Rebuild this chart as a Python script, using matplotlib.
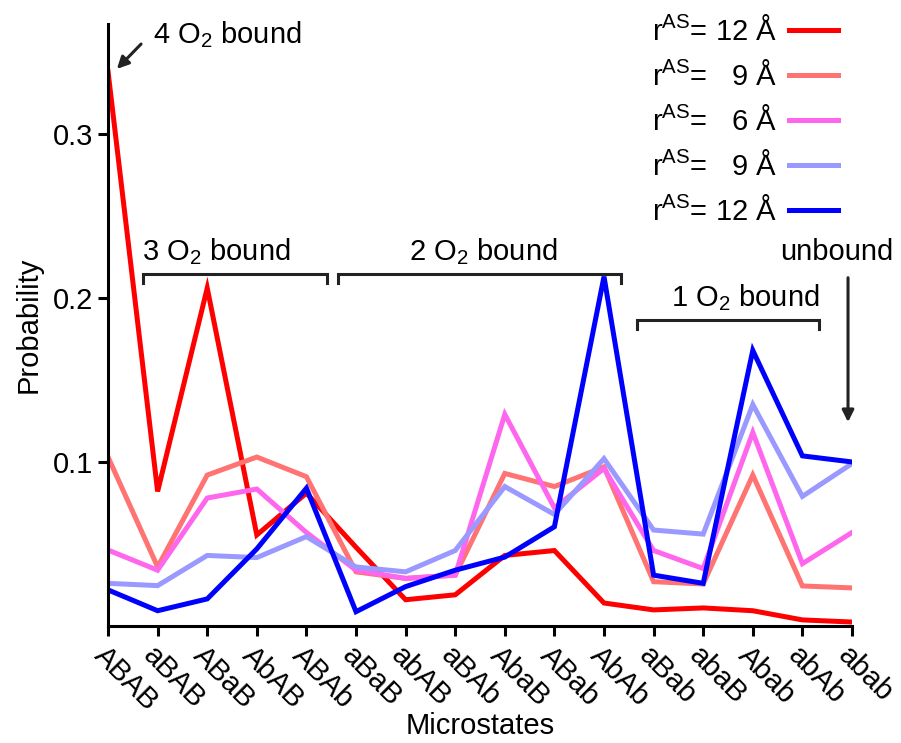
import matplotlib
matplotlib.use("Agg")
import matplotlib.pyplot as plt

plt.rcParams['font.family'] = ['Liberation Sans', 'DejaVu Sans']
plt.rcParams['mathtext.fontset'] = 'custom'
plt.rcParams['mathtext.rm'] = 'Liberation Sans'
plt.rcParams['mathtext.it'] = 'Liberation Sans:italic'
plt.rcParams['mathtext.bf'] = 'Liberation Sans:bold'

states = ['ABAB', 'aBAB', 'ABaB', 'AbAB', 'ABAb', 'aBaB', 'abAB', 'aBAb',
          'AbaB', 'ABab', 'AbAb', 'aBab', 'abaB', 'Abab', 'abAb', 'abab']

red12 = [0.338, 0.082, 0.206, 0.0555, 0.081, 0.048, 0.016, 0.019,
         0.043, 0.046, 0.014, 0.0098, 0.011, 0.0093, 0.0037, 0.0024]
red9 = [0.103, 0.036, 0.092, 0.103, 0.091, 0.033, 0.029, 0.031,
        0.093, 0.085, 0.097, 0.027, 0.0256, 0.092, 0.0244, 0.0232]
pink6 = [0.0463, 0.034, 0.078, 0.0835, 0.057, 0.034, 0.029, 0.031,
         0.129, 0.072, 0.096, 0.046, 0.035, 0.118, 0.038, 0.057]
blue9 = [0.026, 0.0246, 0.043, 0.0417, 0.0545, 0.036, 0.033, 0.046,
         0.085, 0.068, 0.102, 0.0585, 0.056, 0.135, 0.079, 0.099]
blue12 = [0.022, 0.0093, 0.0165, 0.047, 0.084, 0.0087, 0.024, 0.034,
          0.042, 0.0605, 0.213, 0.031, 0.026, 0.168, 0.1037, 0.100]

labels = [r'r$^{\mathrm{AS}}$= 12 Å', r'r$^{\mathrm{AS}}$=   9 Å', r'r$^{\mathrm{AS}}$=   6 Å',
          r'r$^{\mathrm{AS}}$=   9 Å', r'r$^{\mathrm{AS}}$= 12 Å']
colors = ['#ff0000', '#ff7373', '#ff66ee', '#9999ff', '#0000ff']
series = [red12, red9, pink6, blue9, blue12]

fs = 21
fig = plt.figure(figsize=(9.01, 7.43), dpi=100)
ax = fig.add_axes([0.1199, 0.1575, 0.8257, 0.8102])

x = list(range(len(states)))
for ys, c, lab in zip(series, colors, labels):
    ax.plot(x, ys, color=c, lw=3.6, label=lab, solid_joinstyle='miter')

ax.set_xlim(0, 15)
ax.set_ylim(0, 0.367)
ax.set_yticks([0.1, 0.2, 0.3])
ax.set_yticklabels(['0.1', '0.2', '0.3'], fontsize=fs)
ax.set_xticks(x)
ax.set_xticklabels(states, rotation=-45, ha='left', va='top',
                   rotation_mode='anchor', fontsize=fs)
ax.tick_params(axis='both', length=7, width=2.2, direction='out')
ax.tick_params(axis='x', pad=4)
ax.tick_params(axis='y', pad=4)
for s in ['top', 'right']:
    ax.spines[s].set_visible(False)
for s in ['left', 'bottom']:
    ax.spines[s].set_linewidth(2.2)

ax.set_ylabel('Probability', fontsize=fs)
ax.yaxis.set_label_coords(-0.088, 0.5)
ax.set_xlabel('Microstates', fontsize=fs)
ax.xaxis.set_label_coords(0.5, -0.143)

leg = ax.legend(loc='upper right', bbox_to_anchor=(0.997, 1.033), frameon=False,
                fontsize=fs, markerfirst=False, handlelength=1.7,
                handletextpad=0.4, labelspacing=0.52, borderaxespad=0)

kc = '#222222'
# 4 O2 bound
ax.annotate('', xy=(0.14, 0.3384), xytext=(0.705, 0.356),
            arrowprops=dict(arrowstyle='-|>,head_length=0.7,head_width=0.35',
                            color=kc, lw=2.2))
ax.text(0.9, 0.355, r'4 O$_2$ bound', fontsize=fs, ha='left', va='baseline')

# brackets
def bracket(x0, x1, y, h, text, tx, ha):
    ax.plot([x0, x0, x1, x1], [y - h, y, y, y - h], color=kc, lw=2.2,
            solid_joinstyle='miter', clip_on=False)
    ax.text(tx, y + 0.0085, text, fontsize=fs, ha=ha, va='baseline')

bracket(0.705, 4.415, 0.2146, 0.0055, r'3 O$_2$ bound', 0.68, 'left')
bracket(4.64, 10.34, 0.2146, 0.0055, r'2 O$_2$ bound', 7.56, 'center')
bracket(10.67, 14.33, 0.1866, 0.0055, r'1 O$_2$ bound', 14.35, 'right')

ax.text(14.7, 0.223, 'unbound', fontsize=fs, ha='center', va='baseline')
ax.annotate('', xy=(14.92, 0.1226), xytext=(14.92, 0.214),
            arrowprops=dict(arrowstyle='-|>,head_length=0.7,head_width=0.35',
                            color=kc, lw=2.2), annotation_clip=False)

fig.savefig('out.png', dpi=100)
